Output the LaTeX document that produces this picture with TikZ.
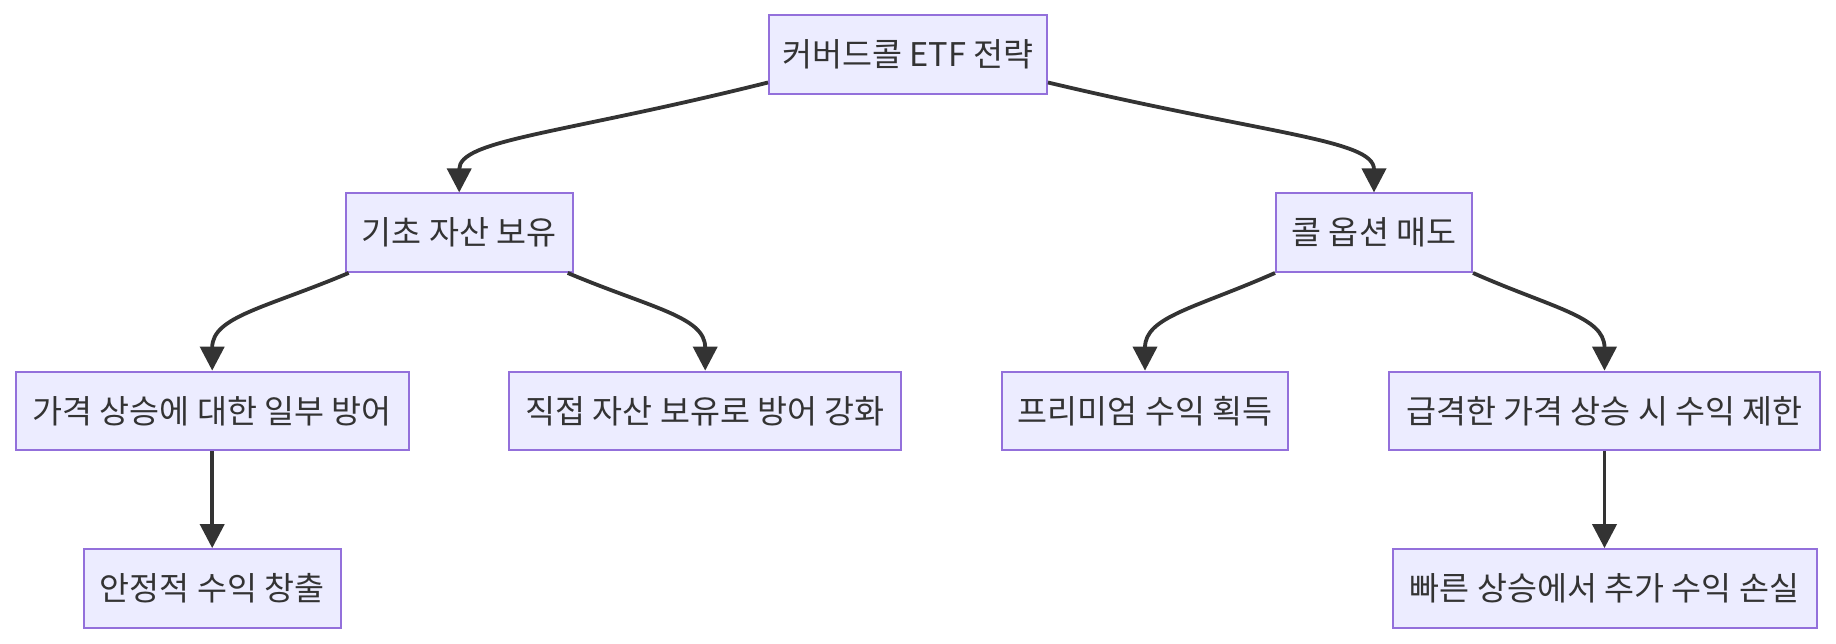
\documentclass[tikz,border=0pt]{standalone}
\usepackage{fontspec}
\setmainfont{Noto Sans CJK KR}
\usetikzlibrary{arrows.meta,calc}
\definecolor{nodefill}{HTML}{ECECFF}
\definecolor{nodeline}{HTML}{9370DB}
\definecolor{inkc}{HTML}{333333}
\begin{document}
\begin{tikzpicture}[x=1pt,y=-1pt,
  box/.style={draw=nodeline, fill=nodefill, line width=2pt, inner sep=0pt,
    minimum height=78.5pt, text=inkc, font=\fontsize{32.6}{38}\selectfont},
  edge/.style={draw=inkc, line width=3.8pt, -{Triangle[length=24pt,width=24pt]}}]
\useasboundingbox (0,0) rectangle (1836,644);
% nodes
\node[box, minimum width=278pt] (root) at (908,54.5) {커버드콜 ETF 전략};
\node[box, minimum width=227pt] (b1) at (459.2,232.7) {기초 자산 보유};
\node[box, minimum width=196pt] (b2) at (1374,232.7) {콜 옵션 매도};
\node[box, minimum width=393pt] (c1) at (212.2,410.9) {가격 상승에 대한 일부 방어};
\node[box, minimum width=391.5pt] (c2) at (705.2,410.9) {직접 자산 보유로 방어 강화};
\node[box, minimum width=286pt] (c3) at (1145,410.9) {프리미엄 수익 획득};
\node[box, minimum width=431pt] (c4) at (1604.5,410.9) {급격한 가격 상승 시 수익 제한};
\node[box, minimum width=257pt] (d1) at (212.2,588.4) {안정적 수익 창출};
\node[box, minimum width=424pt] (d2) at (1604.5,588.4) {빠른 상승에서 추가 수익 손실};
% edges
\draw[edge] ($(root.west)+(0,28)$) .. controls ($(root.west)+(-208,80)$) and ($(b1.north)+(0,-53)$) .. (b1.north);
\draw[edge] ($(root.east)+(0,28)$) .. controls ($(root.east)+(219,80)$) and ($(b2.north)+(0,-53)$) .. (b2.north);
\draw[edge] ($(b1.south west)+(4,0)$) .. controls ($(b1.south west)+(-79,35)$) and ($(c1.north)+(0,-54)$) .. (c1.north);
\draw[edge] ($(b1.south east)+(-6,0)$) .. controls ($(b1.south east)+(77,35)$) and ($(c2.north)+(0,-54)$) .. (c2.north);
\draw[edge] (b2.south west) .. controls ($(b2.south west)+(-79,35)$) and ($(c3.north)+(0,-54)$) .. (c3.north);
\draw[edge] (b2.south east) .. controls ($(b2.south east)+(79,35)$) and ($(c4.north)+(0,-54)$) .. (c4.north);
\draw[edge] (c1.south) -- (d1.north);
\draw[edge] (c4.south) -- (d2.north);
\end{tikzpicture}
\end{document}
